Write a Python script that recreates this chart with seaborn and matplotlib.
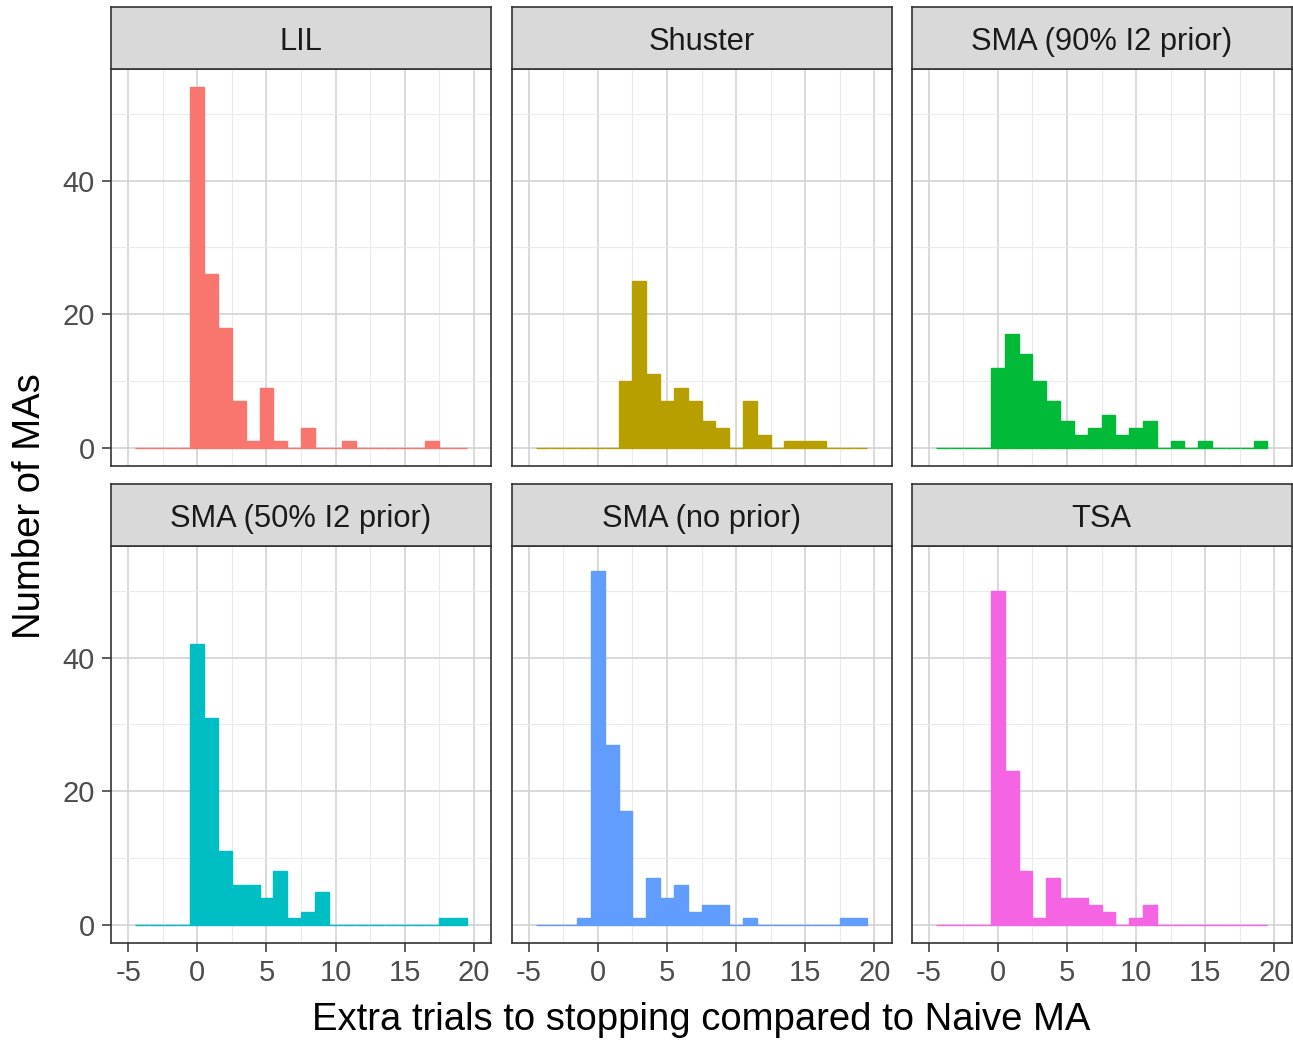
import numpy as np
import matplotlib
matplotlib.use("Agg")
import matplotlib.pyplot as plt
from matplotlib.ticker import MultipleLocator
import seaborn as sns

# Methods compared, in facet order, with ggplot-style hue colours
methods = ["LIL", "Shuster", "SMA (90% I2 prior)",
           "SMA (50% I2 prior)", "SMA (no prior)", "TSA"]
colors = ["#F8766D", "#B79F00", "#00BA38", "#00BFC4", "#619CFF", "#F564E3"]

# Extra trials to stopping (integer values) and number of MAs at each value
extra = np.arange(-4, 20)
lil = [0, 0, 0, 0, 54, 26, 18, 7, 1, 9, 1, 0, 3, 0, 0, 1, 0, 0, 0, 0, 0, 1, 0, 0]
shuster = [0, 0, 0, 0, 0, 0, 10, 25, 11, 7, 9, 7, 4, 3, 0, 7, 2, 0, 1, 1, 1, 0, 0, 0]
sma90 = [0, 0, 0, 0, 12, 17, 14, 10, 7, 4, 2, 3, 5, 2, 3, 4, 0, 1, 0, 1, 0, 0, 0, 1]
sma50 = [0, 0, 0, 0, 42, 31, 11, 6, 6, 4, 8, 1, 2, 5, 0, 0, 0, 0, 0, 0, 0, 0, 1, 1]
sma_noprior = [0, 0, 0, 1, 53, 27, 17, 1, 7, 4, 6, 2, 3, 3, 0, 1, 0, 0, 0, 0, 0, 0, 1, 1]
tsa = [0, 0, 0, 0, 50, 23, 8, 1, 7, 4, 4, 3, 2, 0, 1, 3, 0, 0, 0, 0, 0, 0, 0, 0]
counts = [lil, shuster, sma90, sma50, sma_noprior, tsa]

x_ticks = [-5, 0, 5, 10, 15, 20]
y_ticks = [0, 20, 40]

sns.set_theme(style="white")
plt.rcParams["font.family"] = ["Liberation Sans", "DejaVu Sans"]
plt.rcParams["axes.unicode_minus"] = False

W, H = 1293, 1040
fig = plt.figure(figsize=(W / 100, H / 100), dpi=100)

col_left = [111, 511.5, 911.5]
panel_w = 380
row_top = [69, 546]
panel_h = 397
strip_h = 62

border = "#333333"
for i, (name, col, cnt) in enumerate(zip(methods, colors, counts)):
    r, c = divmod(i, 3)
    x0 = col_left[c]
    y0 = row_top[r]
    ax = fig.add_axes([x0 / W, 1 - (y0 + panel_h) / H, panel_w / W, panel_h / H])
    values = np.repeat(extra, cnt)
    sns.histplot(x=values, ax=ax, binwidth=1, binrange=(-4.5, 19.5),
                 color=col, alpha=1, edgecolor=col, linewidth=1.0)
    ax.set_xlim(-6.25, 21.25)
    ax.set_ylim(-2.7, 56.7)
    ax.set_xticks(x_ticks)
    ax.set_yticks(y_ticks)
    ax.xaxis.set_minor_locator(MultipleLocator(2.5))
    ax.yaxis.set_minor_locator(MultipleLocator(10))
    ax.set_axisbelow(True)
    ax.grid(which="major", color="#D3D3D3", linewidth=1.2)
    ax.grid(which="minor", color="#EBEBEB", linewidth=0.8)
    ax.set_xlabel("")
    ax.set_ylabel("")
    for sp in ax.spines.values():
        sp.set_color(border)
        sp.set_linewidth(1.2)
        sp.set_visible(True)
    ax.tick_params(which="minor", length=0)
    ax.tick_params(which="major", length=6.5, width=1.1, color=border,
                   labelsize=21, labelcolor="#4D4D4D", pad=5)
    ax.tick_params(axis="x", bottom=(r == 1), labelbottom=(r == 1))
    ax.tick_params(axis="y", left=(c == 0), labelleft=(c == 0))

    # facet strip
    sax = fig.add_axes([x0 / W, 1 - y0 / H, panel_w / W, strip_h / H])
    sax.set_facecolor("#D9D9D9")
    sax.set_xticks([])
    sax.set_yticks([])
    for sp in sax.spines.values():
        sp.set_color(border)
        sp.set_linewidth(1.2)
        sp.set_visible(True)
    sax.text(0.5, 0.44, name, ha="center", va="center", fontsize=22.2,
             color="#1A1A1A", transform=sax.transAxes)

fig.text(701 / W, 1 - 1020 / H, "Extra trials to stopping compared to Naive MA",
         ha="center", va="center", fontsize=27.5, color="black")
fig.text(30 / W, 1 - 506 / H, "Number of MAs", ha="center", va="center",
         rotation=90, fontsize=27.5, color="black")

fig.savefig("out.png", dpi=100, facecolor="white")
